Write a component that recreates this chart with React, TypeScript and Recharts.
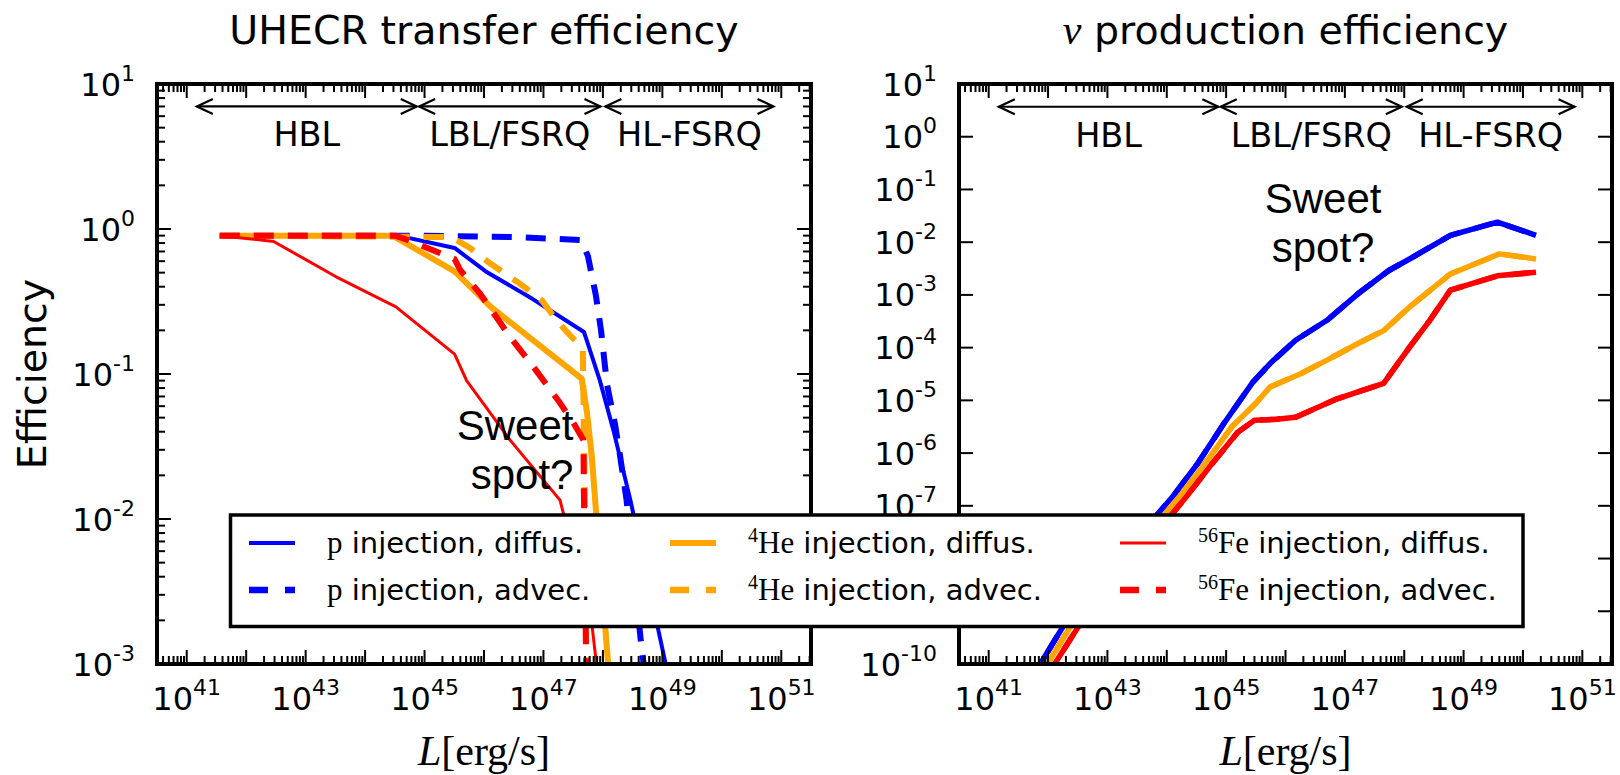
import React from 'react';
import { LineChart, Line, XAxis, YAxis, ReferenceLine, ReferenceDot } from 'recharts';

// ---------------------------------------------------------------------------
// Data: luminosity L [erg/s] against efficiency, per injected species and
// transport mode (diffusion / advection).
// ---------------------------------------------------------------------------

// UHECR transfer efficiency
const UHECR_P_DIFFUS_L = [3.6e41, 3.6e44, 3.2e45, 1.07e46, 6.5e46, 4.8e47, 8.9e47, 1.5e48, 2.9e48, 1.2e49];
const UHECR_P_DIFFUS_EFF = [0.9, 0.9, 0.74, 0.51, 0.33, 0.195, 0.09, 0.041, 0.0135, 0.0009];

const UHECR_P_ADVEC_L = [3.6e41, 1.0e45, 3.2e46, 4.3e47, 5.6e47, 7.6e47, 9.3e47, 1.17e48, 1.6e48, 1.95e48, 2.5e48, 4.3e48, 5.0e48];
const UHECR_P_ADVEC_EFF = [0.9, 0.9, 0.88, 0.84, 0.65, 0.35, 0.2, 0.085, 0.045, 0.027, 0.0135, 0.0015, 0.0009];

const UHECR_HE_DIFFUS_L = [3.6e41, 2.9e44, 3.2e45, 1.3e46, 4.4e47, 5.4e47, 6.5e47, 7.4e47, 1.25e48];
const UHECR_HE_DIFFUS_EFF = [0.9, 0.9, 0.51, 0.29, 0.093, 0.054, 0.027, 0.0135, 0.0009];

const UHECR_HE_ADVEC_L = [3.6e41, 2.8e45, 5.8e45, 1.26e46, 4.0e46, 9.5e46, 1.66e47, 2.45e47, 4.6e47, 4.8e47, 5.0e47, 5.25e47];
const UHECR_HE_ADVEC_EFF = [0.9, 0.88, 0.74, 0.58, 0.42, 0.32, 0.235, 0.196, 0.15, 0.035, 0.0135, 0.0009];

const UHECR_FE_DIFFUS_L = [3.6e41, 2.9e42, 3.2e43, 3.3e44, 3.2e45, 5.1e45, 2.75e46, 1.9e47, 6.6e47, 8.3e47];
const UHECR_FE_DIFFUS_EFF = [0.9, 0.82, 0.47, 0.29, 0.137, 0.09, 0.035, 0.0135, 0.0018, 0.0008];

const UHECR_FE_ADVEC_L = [3.6e41, 3.2e44, 5.2e44, 3.2e45, 4.0e45, 8.5e45, 2.75e46, 6.8e46, 1.9e47, 3.2e47, 4.7e47, 4.8e47, 5.25e47];
const UHECR_FE_ADVEC_EFF = [0.9, 0.9, 0.84, 0.62, 0.52, 0.36, 0.18, 0.112, 0.063, 0.046, 0.035, 0.0135, 0.0009];

// Neutrino production efficiency (diffusion and advection coincide)
const NU_P_L = [5.0e41, 7.4e41, 2.0e42, 1.6e43, 1.23e44, 3.3e44, 9.1e44, 2.8e45, 5.5e45, 1.48e46, 5.0e46, 1.66e47, 5.5e47, 1.23e48, 6.0e48, 3.7e49, 1.66e50];
const NU_P_EFF = [4.5e-11, 1.0e-10, 6.3e-10, 1.0e-8, 1.45e-7, 6.3e-7, 3.6e-6, 2.2e-5, 5.0e-5, 1.38e-4, 3.3e-4, 1.05e-3, 2.9e-3, 4.8e-3, 1.35e-2, 2.4e-2, 1.35e-2];

const NU_HE_L = [7.1e41, 9.8e41, 2.5e42, 2.0e43, 1.6e44, 4.4e44, 1.26e45, 3.2e45, 5.5e45, 1.8e46, 5.0e46, 1.66e47, 4.5e47, 1.23e48, 6.0e48, 4.0e49, 1.66e50];
const NU_HE_EFF = [5.0e-11, 1.0e-10, 5.6e-10, 8.9e-9, 1.45e-7, 6.3e-7, 3.2e-6, 8.9e-6, 1.8e-5, 3.2e-5, 5.8e-5, 1.2e-4, 2.1e-4, 5.9e-4, 2.5e-3, 6.0e-3, 4.8e-3];

const NU_FE_L = [9.3e41, 1.29e42, 3.2e42, 2.5e43, 2.1e44, 5.8e44, 1.58e45, 3.0e45, 7.1e45, 1.48e46, 7.4e46, 4.5e47, 1.23e48, 2.7e48, 6.0e48, 3.7e49, 1.66e50];
const NU_FE_EFF = [5.0e-11, 1.0e-10, 5.0e-10, 7.9e-9, 1.45e-7, 6.3e-7, 2.5e-6, 4.2e-6, 4.4e-6, 4.8e-6, 1.07e-5, 2.1e-5, 1.02e-4, 3.3e-4, 1.23e-3, 2.3e-3, 2.7e-3];

// Source classes marked along the top of both panels
const REGION_NAMES = ['HBL', 'LBL/FSRQ', 'HL-FSRQ'];
const REGION_FROM_L = [1.48e41, 8.1e44, 1.1e48];
const REGION_TO_L = [7.4e44, 9.1e47, 7.4e50];

// Axis ranges and tick exponents
const X_DOMAIN: [number, number] = [3.1623e40, 3.1623e51];
const X_DECADES = [40, 41, 42, 43, 44, 45, 46, 47, 48, 49, 50, 51];
const X_LABEL_EXPONENTS = [41, 43, 45, 47, 49, 51];
const MINOR_MULTIPLIERS = [1, 2, 3, 4, 5, 6, 7, 8, 9];
const UHECR_Y_DOMAIN: [number, number] = [1e-3, 10];
const UHECR_Y_DECADES = [-3, -2, -1, 0, 1];
const NU_Y_DOMAIN: [number, number] = [1e-10, 10];
const NU_Y_DECADES = [-10, -9, -8, -7, -6, -5, -4, -3, -2, -1, 0, 1];

// ---------------------------------------------------------------------------
// Styling and layout
// ---------------------------------------------------------------------------
const SANS = '"DejaVu Sans", Verdana, sans-serif';
const SERIF = '"Liberation Serif", "Times New Roman", serif';
const ARIAL = '"Liberation Sans", Arial, sans-serif';

const BLUE = '#0000ff';
const ORANGE = '#ffa500';
const RED = '#ff0000';
const DASH = '20 14';

const FIG_W = 1620;
const FIG_H = 775;
const AX_TOP = 84;
const AX_BOTTOM = 664;
const CHART_A = { x: 0, w: 830, plotLeft: 157, plotRight: 811 };
const CHART_B = { x: 830, w: 790, plotLeft: 959, plotRight: 1612 };

const MAJOR_LEN = 14;
const MINOR_LEN = 8;
const TICK_W = 2;
const FRAME_W = 4;

// Legend spanning both panels
const LEGEND_BOX = { x: 230.5, y: 515, w: 1292.5, h: 111.5 };
const LEGEND_HANDLE_X = [249, 670, 1120];
const LEGEND_ROW_Y = [543, 590];
const HANDLE_LEN = 46;

type Pt = { L: number; eff: number };
const toPoints = (L: number[], eff: number[]): Pt[] => L.map((l, i) => ({ L: l, eff: eff[i] }));

type Species = 'p' | 'He' | 'Fe';
type SeriesDef = {
  key: string;
  species: Species;
  mode: 'diffus.' | 'advec.';
  color: string;
  dashed: boolean;
  width: number;
  data: Pt[];
};

const UHECR_SERIES: SeriesDef[] = [
  { key: 'p-d', species: 'p', mode: 'diffus.', color: BLUE, dashed: false, width: 4, data: toPoints(UHECR_P_DIFFUS_L, UHECR_P_DIFFUS_EFF) },
  { key: 'p-a', species: 'p', mode: 'advec.', color: BLUE, dashed: true, width: 6, data: toPoints(UHECR_P_ADVEC_L, UHECR_P_ADVEC_EFF) },
  { key: 'he-d', species: 'He', mode: 'diffus.', color: ORANGE, dashed: false, width: 6, data: toPoints(UHECR_HE_DIFFUS_L, UHECR_HE_DIFFUS_EFF) },
  { key: 'he-a', species: 'He', mode: 'advec.', color: ORANGE, dashed: true, width: 6, data: toPoints(UHECR_HE_ADVEC_L, UHECR_HE_ADVEC_EFF) },
  { key: 'fe-d', species: 'Fe', mode: 'diffus.', color: RED, dashed: false, width: 3, data: toPoints(UHECR_FE_DIFFUS_L, UHECR_FE_DIFFUS_EFF) },
  { key: 'fe-a', species: 'Fe', mode: 'advec.', color: RED, dashed: true, width: 6, data: toPoints(UHECR_FE_ADVEC_L, UHECR_FE_ADVEC_EFF) },
];

const NU_SERIES: SeriesDef[] = [
  { key: 'p-d', species: 'p', mode: 'diffus.', color: BLUE, dashed: false, width: 5.5, data: toPoints(NU_P_L, NU_P_EFF) },
  { key: 'p-a', species: 'p', mode: 'advec.', color: BLUE, dashed: true, width: 5.5, data: toPoints(NU_P_L, NU_P_EFF) },
  { key: 'he-d', species: 'He', mode: 'diffus.', color: ORANGE, dashed: false, width: 5.5, data: toPoints(NU_HE_L, NU_HE_EFF) },
  { key: 'he-a', species: 'He', mode: 'advec.', color: ORANGE, dashed: true, width: 5.5, data: toPoints(NU_HE_L, NU_HE_EFF) },
  { key: 'fe-d', species: 'Fe', mode: 'diffus.', color: RED, dashed: false, width: 5.5, data: toPoints(NU_FE_L, NU_FE_EFF) },
  { key: 'fe-a', species: 'Fe', mode: 'advec.', color: RED, dashed: true, width: 5.5, data: toPoints(NU_FE_L, NU_FE_EFF) },
];

// Tick value lists (major decades plus 2..9 minor steps)
const inRange = (v: number, d: [number, number]) => v >= d[0] * 0.9999 && v <= d[1] * 1.0001;
const X_TICKS = X_DECADES.flatMap((d) => MINOR_MULTIPLIERS.map((k) => k * Math.pow(10, d))).filter((v) => inRange(v, X_DOMAIN));
const UHECR_Y_TICKS = UHECR_Y_DECADES.flatMap((d) => MINOR_MULTIPLIERS.map((k) => k * Math.pow(10, d))).filter((v) => inRange(v, UHECR_Y_DOMAIN));
const NU_Y_TICKS = NU_Y_DECADES.map((d) => Math.pow(10, d));

const isDecade = (v: number) => {
  const e = Math.log10(v);
  return Math.abs(e - Math.round(e)) < 1e-6;
};
const expOf = (v: number) => Math.round(Math.log10(v));
const expText = (e: number) => (e < 0 ? `-${Math.abs(e)}` : `${e}`);

// A tick label that sits entirely under the opaque legend box is not drawn.
const hiddenByLegend = (pageX: number, top: number, bottom: number) =>
  pageX > LEGEND_BOX.x && pageX < LEGEND_BOX.x + LEGEND_BOX.w && top > LEGEND_BOX.y && bottom < LEGEND_BOX.y + LEGEND_BOX.h;

function Pow10({ x, y, exp, anchor }: { x: number; y: number; exp: number; anchor: 'start' | 'middle' | 'end' }) {
  return (
    <text x={x} y={y} textAnchor={anchor} fontFamily={SANS} fontSize={32} fill="#000">
      10
      <tspan dy={-15} fontSize={22}>
        {expText(exp)}
      </tspan>
    </text>
  );
}

// Tick renderers: ticks point inwards, labels only on the bottom / left side
const xTick = (lineY: number, dir: 1 | -1, withLabels: boolean) => (props: any) => {
  const x = props.x;
  const v = props.payload.value;
  const major = isDecade(v);
  const e = expOf(v);
  const len = major ? MAJOR_LEN : MINOR_LEN;
  return (
    <g>
      <line x1={x} x2={x} y1={lineY} y2={lineY + dir * len} stroke="#000" strokeWidth={TICK_W} />
      {withLabels && major && X_LABEL_EXPONENTS.includes(e) ? <Pow10 x={x} y={lineY + 46} exp={e} anchor="middle" /> : null}
    </g>
  );
};

const yTick = (lineX: number, dir: 1 | -1, withLabels: boolean, chartX: number) => (props: any) => {
  const y = props.y;
  const v = props.payload.value;
  const major = isDecade(v);
  const len = major ? MAJOR_LEN : MINOR_LEN;
  const labelX = lineX - 22;
  const showLabel = withLabels && major && !hiddenByLegend(chartX + labelX - 40, y - 20, y + 12);
  return (
    <g>
      <line x1={lineX} x2={lineX + dir * len} y1={y} y2={y} stroke="#000" strokeWidth={TICK_W} />
      {showLabel ? <Pow10 x={labelX} y={y + 11.5} exp={expOf(v)} anchor="end" /> : null}
    </g>
  );
};

function RegionArrow(props: any) {
  const { x1, y1, x2, y2, name } = props;
  const head = 16;
  const half = 7.5;
  return (
    <g>
      <line x1={x1} y1={y1} x2={x2} y2={y2} stroke="#000" strokeWidth={2.2} />
      <polyline points={`${x1 + head},${y1 - half} ${x1},${y1} ${x1 + head},${y1 + half}`} fill="none" stroke="#000" strokeWidth={2.2} />
      <polyline points={`${x2 - head},${y2 - half} ${x2},${y2} ${x2 - head},${y2 + half}`} fill="none" stroke="#000" strokeWidth={2.2} />
      <text x={(x1 + x2) / 2} y={y1 + 40} textAnchor="middle" fontFamily={SANS} fontSize={33.5} fill="#000">
        {name}
      </text>
    </g>
  );
}

function SweetSpot(props: any) {
  const { cx, cy, anchor } = props;
  return (
    <text textAnchor={anchor} fontFamily={ARIAL} fontSize={42} fill="#000">
      <tspan x={cx} y={cy}>Sweet</tspan>
      <tspan x={cx} y={cy + 49}>spot?</tspan>
    </text>
  );
}

type PanelProps = {
  chart: { x: number; w: number; plotLeft: number; plotRight: number };
  series: SeriesDef[];
  yDomain: [number, number];
  yTicks: number[];
  arrowY: number;
  sweetL: number;
  sweetEff: number;
  sweetAnchor: 'middle' | 'end';
};

function Panel({ chart, series, yDomain, yTicks, arrowY, sweetL, sweetEff, sweetAnchor }: PanelProps) {
  const left = chart.plotLeft - chart.x;
  const right = chart.w - (chart.plotRight - chart.x);
  const frame = { stroke: '#000', strokeWidth: FRAME_W, strokeLinecap: 'square' as const };
  return (
    <div style={{ position: 'absolute', left: chart.x, top: 0 }}>
      <LineChart width={chart.w} height={FIG_H} margin={{ top: AX_TOP, bottom: FIG_H - AX_BOTTOM, left, right }}>
        <XAxis xAxisId="x" dataKey="L" type="number" scale="log" domain={X_DOMAIN} allowDataOverflow ticks={X_TICKS} interval={0}
          orientation="bottom" mirror tickLine={false} axisLine={frame} tick={xTick(AX_BOTTOM, -1, true)} />
        <XAxis xAxisId="xt" dataKey="L" type="number" scale="log" domain={X_DOMAIN} allowDataOverflow ticks={X_TICKS} interval={0}
          orientation="top" mirror tickLine={false} axisLine={frame} tick={xTick(AX_TOP, 1, false)} />
        <YAxis yAxisId="y" dataKey="eff" type="number" scale="log" domain={yDomain} allowDataOverflow ticks={yTicks} interval={0}
          orientation="left" mirror tickLine={false} axisLine={frame} tick={yTick(left, 1, true, chart.x)} />
        <YAxis yAxisId="yr" dataKey="eff" type="number" scale="log" domain={yDomain} allowDataOverflow ticks={yTicks} interval={0}
          orientation="right" mirror tickLine={false} axisLine={frame} tick={yTick(chart.w - right, -1, false, chart.x)} />
        {series.map((s) => (
          <Line key={s.key} xAxisId="x" yAxisId="y" data={s.data} dataKey="eff" type="linear" stroke={s.color}
            strokeWidth={s.width} strokeDasharray={s.dashed ? DASH : undefined} strokeLinejoin="round"
            dot={false} activeDot={false} isAnimationActive={false} />
        ))}
        {REGION_NAMES.map((name, i) => (
          <ReferenceLine key={name} xAxisId="x" yAxisId="y"
            segment={[{ x: REGION_FROM_L[i], y: arrowY }, { x: REGION_TO_L[i], y: arrowY }]}
            shape={(p: any) => <RegionArrow {...p} name={name} />} />
        ))}
        <ReferenceDot xAxisId="x" yAxisId="y" x={sweetL} y={sweetEff} r={0}
          shape={(p: any) => <SweetSpot cx={p.cx} cy={p.cy} anchor={sweetAnchor} />} />
      </LineChart>
    </div>
  );
}

function SpeciesText({ species }: { species: Species }) {
  if (species === 'p') {
    return <tspan fontFamily={SERIF} fontSize={31}>p</tspan>;
  }
  const mass = species === 'He' ? '4' : '56';
  return (
    <>
      <tspan fontFamily={SERIF} fontSize={20} dy={-11}>{mass}</tspan>
      <tspan fontFamily={SERIF} fontSize={31} dy={11}>{species}</tspan>
    </>
  );
}

function FigureLegend() {
  return (
    <svg width={FIG_W} height={FIG_H} style={{ position: 'absolute', left: 0, top: 0, pointerEvents: 'none' }}>
      <rect x={LEGEND_BOX.x} y={LEGEND_BOX.y} width={LEGEND_BOX.w} height={LEGEND_BOX.h} fill="#fff" stroke="#000" strokeWidth={3.5} />
      {UHECR_SERIES.map((s, i) => {
        const col = Math.floor(i / 2);
        const row = i % 2;
        const hx = LEGEND_HANDLE_X[col];
        const hy = LEGEND_ROW_Y[row];
        return (
          <g key={s.key}>
            <line x1={hx} x2={hx + HANDLE_LEN} y1={hy} y2={hy} stroke={s.color} strokeWidth={s.dashed ? 6.5 : s.width}
              strokeDasharray={s.dashed ? '19 17' : undefined} />
            <text x={hx + HANDLE_LEN + 32} y={hy + 9.5} fontFamily={SANS} fontSize={29} fill="#000" style={{ whiteSpace: 'pre' }}>
              <SpeciesText species={s.species} />
              <tspan fontFamily={SANS} fontSize={29}>{` injection, ${s.mode}`}</tspan>
            </text>
          </g>
        );
      })}
    </svg>
  );
}

function Annotations() {
  const aMid = (CHART_A.plotLeft + CHART_A.plotRight) / 2;
  const bMid = (CHART_B.plotLeft + CHART_B.plotRight) / 2;
  return (
    <svg width={FIG_W} height={FIG_H} style={{ position: 'absolute', left: 0, top: 0, pointerEvents: 'none' }}>
      <text x={aMid} y={44} textAnchor="middle" fontFamily={SANS} fontSize={39.5} fill="#000">UHECR transfer efficiency</text>
      <text x={bMid} y={44} textAnchor="middle" fill="#000" style={{ whiteSpace: 'pre' }}>
        <tspan fontFamily={SERIF} fontStyle="italic" fontSize={42}>ν</tspan>
        <tspan fontFamily={SANS} fontSize={39.5}>{' production efficiency'}</tspan>
      </text>
      <text x={46} y={(AX_TOP + AX_BOTTOM) / 2} transform={`rotate(-90, 46, ${(AX_TOP + AX_BOTTOM) / 2})`} textAnchor="middle"
        fontFamily={SANS} fontSize={39.5} fill="#000">Efficiency</text>
      {[aMid, bMid].map((mx) => (
        <text key={mx} x={mx} y={765} textAnchor="middle" fontFamily={SERIF} fontSize={42} fill="#000">
          <tspan fontStyle="italic">L</tspan>
          <tspan>[erg/s]</tspan>
        </text>
      ))}
    </svg>
  );
}

export default function App() {
  return (
    <div style={{ position: 'absolute', left: 0, top: 0, width: FIG_W, height: FIG_H, background: '#fff', overflow: 'hidden' }}>
      <Annotations />
      <Panel chart={CHART_A} series={UHECR_SERIES} yDomain={UHECR_Y_DOMAIN} yTicks={UHECR_Y_TICKS} arrowY={7}
        sweetL={3.2e47} sweetEff={0.035} sweetAnchor="end" />
      <Panel chart={CHART_B} series={NU_SERIES} yDomain={NU_Y_DOMAIN} yTicks={NU_Y_TICKS} arrowY={3.7}
        sweetL={4.3e46} sweetEff={0.035} sweetAnchor="middle" />
      <FigureLegend />
    </div>
  );
}
